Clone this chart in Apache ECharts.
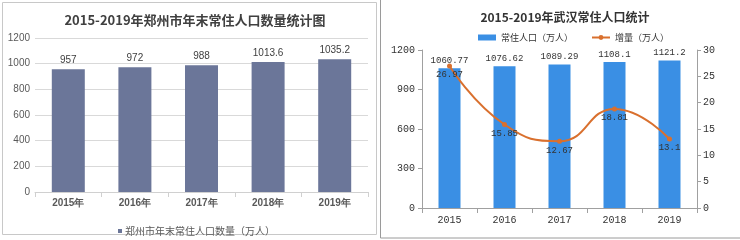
<!DOCTYPE html>
<html><head><meta charset="utf-8">
<script src="https://cdn.jsdelivr.net/npm/echarts@6/dist/echarts.min.js"></script>
<style>html,body{margin:0;padding:0;background:#fff}#c{width:740px;height:240px}</style>
</head><body><div id="c"></div>
<script>
const zzCategories = ['2015年','2016年','2017年','2018年','2019年'];
const zzPopulation = [957, 972, 988, 1013.6, 1035.2];
const zzTicks = [0, 200, 400, 600, 800, 1000, 1200];
const whCategories = ['2015','2016','2017','2018','2019'];
const whPopulation = [1060.77, 1076.62, 1089.29, 1108.1, 1121.2];
const whIncrease = [26.97, 15.85, 12.67, 18.81, 13.1];
const whLeftTicks = [0, 300, 600, 900, 1200];
const whRightTicks = [0, 5, 10, 15, 20, 25, 30];

const chart = echarts.init(document.getElementById('c'));
const sans = '"Liberation Sans", Arial, sans-serif';
const cjk = '"Noto Sans CJK SC", sans-serif';
const mono = '"Liberation Mono", "DejaVu Sans Mono", monospace';
const plain = v => String(v);
chart.setOption({
  animation: false,
  backgroundColor: '#fff',
  graphic: [
    {type:'rect', shape:{x:2.5,y:2.5,width:374,height:232}, style:{fill:'none',stroke:'#c8c8c8',lineWidth:1}},
    {type:'rect', shape:{x:380.5,y:-2,width:362,height:240}, style:{fill:'none',stroke:'#9a9a9a',lineWidth:1}}
  ],
  title: [
    {text:'2015-2019年郑州市年末常住人口数量统计图', left:190, top:9, textAlign:'center',
     textStyle:{fontFamily:cjk, fontSize:13, fontWeight:'bold', color:'#404040'}},
    {text:'2015-2019年武汉常住人口统计', left:560, top:6, textAlign:'center',
     textStyle:{fontFamily:cjk, fontSize:12, fontWeight:'bold', color:'#333'}}
  ],
  legend: [
    {data:[{name:'郑州市年末常住人口数量（万人）', icon:'rect'}], left:113, top:221, itemWidth:4, itemHeight:4, itemGap:4,
     textStyle:{fontFamily:cjk, fontSize:10, color:'#595959', padding:[0,0,0,-2]}},
    {data:[{name:'常住人口（万人）', icon:'rect'},{name:'增量（万人）'}], left:473, top:28, itemWidth:18, itemHeight:6, itemGap:18,
     textStyle:{fontFamily:cjk, fontSize:9, color:'#333'}}
  ],
  grid: [
    {left:35, right:372, top:38, bottom:48},
    {left:422, right:43, top:50, bottom:32}
  ],
  xAxis: [
    {type:'category', gridIndex:0, data:zzCategories,
     axisLine:{lineStyle:{color:'#d0d0d0'}}, axisTick:{show:true, lineStyle:{color:'#d0d0d0'}},
     axisLabel:{fontFamily:sans, fontSize:10, fontWeight:'bold', color:'#595959', margin:6}},
    {type:'category', gridIndex:1, data:whCategories,
     axisLine:{lineStyle:{color:'#a0a0a0'}}, axisTick:{show:true, lineStyle:{color:'#a0a0a0'}},
     axisLabel:{fontFamily:mono, fontSize:10, color:'#333', margin:7}}
  ],
  yAxis: [
    {type:'value', gridIndex:0, min:zzTicks[0], max:zzTicks[zzTicks.length-1], interval:200,
     axisLine:{show:false}, axisTick:{show:false},
     splitLine:{lineStyle:{color:'#d9d9d9'}},
     axisLabel:{fontFamily:sans, fontSize:10, color:'#595959', margin:5, formatter:plain}},
    {type:'value', gridIndex:1, min:whLeftTicks[0], max:whLeftTicks[whLeftTicks.length-1], interval:300,
     axisLine:{show:true, lineStyle:{color:'#a0a0a0'}}, axisTick:{show:true, length:4, lineStyle:{color:'#a0a0a0'}},
     splitLine:{show:false},
     axisLabel:{fontFamily:mono, fontSize:10, color:'#333', margin:7, formatter:plain}},
    {type:'value', gridIndex:1, position:'right', min:whRightTicks[0], max:whRightTicks[whRightTicks.length-1], interval:5,
     axisLine:{show:true, lineStyle:{color:'#a0a0a0'}}, axisTick:{show:true, length:4, lineStyle:{color:'#a0a0a0'}},
     splitLine:{show:false},
     axisLabel:{fontFamily:mono, fontSize:10, color:'#333', margin:6, formatter:plain}}
  ],
  series: [
    {name:'郑州市年末常住人口数量（万人）', type:'bar', xAxisIndex:0, yAxisIndex:0, data:zzPopulation, barWidth:33,
     itemStyle:{color:'#6b7699'},
     label:{show:true, position:'top', distance:4, fontFamily:sans, fontSize:10, color:'#404040'}},
    {name:'常住人口（万人）', type:'bar', xAxisIndex:1, yAxisIndex:1, data:whPopulation, barWidth:22,
     itemStyle:{color:'#3a8fe4'},
     label:{show:true, position:'top', distance:3, fontFamily:mono, fontSize:9, color:'#333'}},
    {name:'增量（万人）', type:'line', xAxisIndex:1, yAxisIndex:2, data:whIncrease, smooth:true,
     symbol:'circle', symbolSize:5, itemStyle:{color:'#d9702e'}, lineStyle:{color:'#d9702e', width:2},
     label:{show:true, position:'bottom', distance:2, fontFamily:mono, fontSize:9, color:'#333'}}
  ]
});
</script></body></html>
